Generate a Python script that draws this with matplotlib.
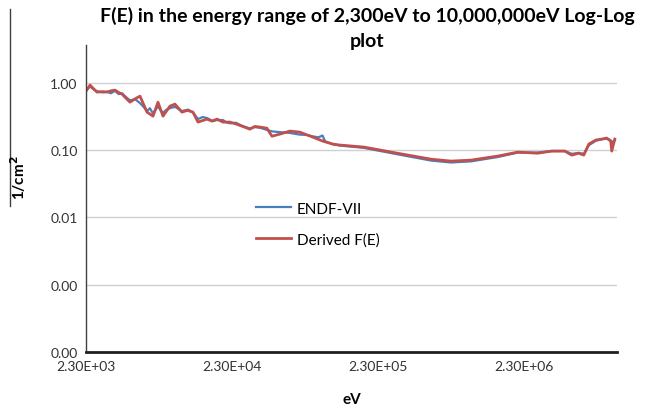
import matplotlib
matplotlib.use("Agg")
import matplotlib.pyplot as plt
from matplotlib.ticker import FixedLocator, FuncFormatter, NullLocator
from matplotlib.lines import Line2D

# ---------------------------
# Datos
# ---------------------------
energy_derived = [2300, 2450, 2735, 3000, 3205, 3400, 3635, 3850, 4060, 4600,
                  5000, 5390, 6025, 6620, 7160, 7750, 8650, 9360, 10450, 11400,
                  12440, 13460, 15520, 16800, 18160, 19960, 22300, 24500, 26930, 30540,
                  33000, 35730, 39910, 43220, 49000, 57390, 67150, 82420, 96540, 113000,
                  126200, 184500, 310500, 530900, 727500, 997000, 1.525e6, 2.09e6, 2.86e6, 3.57e6,
                  4.39e6, 4.90e6, 5.47e6, 5.92e6, 6.41e6, 7.16e6, 7.87e6, 8.51e6, 9.06e6, 9.2e6,
                  9.66e6]
flux_derived = [0.75, 0.925, 0.728, 0.74, 0.728, 0.76, 0.78, 0.72, 0.68, 0.516,
                0.58, 0.634, 0.367, 0.32, 0.516, 0.32, 0.451, 0.483, 0.367, 0.39,
                0.367, 0.261, 0.289, 0.27, 0.289, 0.261, 0.261, 0.245, 0.227, 0.205,
                0.225, 0.22, 0.212, 0.161, 0.173, 0.192, 0.185, 0.156, 0.136, 0.123,
                0.119, 0.111, 0.0902, 0.0734, 0.0687, 0.071, 0.0815, 0.0934, 0.090, 0.0967,
                0.0967, 0.0843, 0.090, 0.0843, 0.123, 0.141, 0.146, 0.151, 0.136, 0.0967,
                0.146]

energy_endf = [2300, 2450, 2600, 2735, 3000, 3205, 3400, 3635, 3850, 4060,
               4300, 4600, 5000, 5390, 5700, 6025, 6300, 6620, 7160, 7450,
               7750, 8200, 8650, 9360, 10450, 11500, 12440, 13460, 14500, 15520,
               17000, 18160, 19960, 21000, 22300, 24500, 26930, 28500, 30540, 33000,
               35730, 39910, 43220, 49000, 57390, 67150, 75000, 82420, 90000, 96000,
               100000, 113000, 126200, 184500, 310500, 530900, 727500, 997000, 1.525e6, 2.09e6,
               2.86e6, 3.57e6, 4.39e6, 4.90e6, 5.47e6, 5.92e6, 6.41e6, 7.16e6, 7.87e6, 8.51e6,
               9.06e6, 9.2e6, 9.66e6]
flux_endf = [0.78, 0.88, 0.80, 0.75, 0.72, 0.74, 0.70, 0.76, 0.68, 0.70,
             0.62, 0.55, 0.57, 0.50, 0.44, 0.38, 0.42, 0.35, 0.45, 0.39,
             0.36, 0.40, 0.42, 0.44, 0.38, 0.40, 0.36, 0.29, 0.31, 0.30,
             0.27, 0.28, 0.28, 0.26, 0.25, 0.255, 0.23, 0.22, 0.21, 0.22,
             0.215, 0.20, 0.19, 0.185, 0.18, 0.17, 0.168, 0.16, 0.155, 0.165,
             0.135, 0.122, 0.117, 0.108, 0.087, 0.070, 0.0655, 0.068, 0.079, 0.092,
             0.092, 0.097, 0.097, 0.088, 0.091, 0.088, 0.118, 0.138, 0.145, 0.148,
             0.140, 0.13, 0.14]

x_ticks = [2.3e3, 2.3e4, 2.3e5, 2.3e6]
y_ticks = [1e-4, 1e-3, 1e-2, 1e-1, 1e0]

# ---------------------------
# Figura
# ---------------------------
plt.rcParams["font.family"] = ["Lato", "DejaVu Sans"]

fig = plt.figure(figsize=(6.46, 4.10), dpi=100)
ax = fig.add_axes([86 / 646, 57 / 410, 531 / 646, 307 / 410])

ax.plot(energy_endf, flux_endf, color="#4a7ebb", lw=1.6, label="ENDF-VII")
ax.plot(energy_derived, flux_derived, color="#c0504d", lw=2.0, label="Derived F(E)")

ax.set_xscale("log")
ax.set_yscale("log")
ax.set_xlim(2300, 1.0e7)
ax.set_ylim(1e-4, 3.65)

ax.xaxis.set_major_locator(FixedLocator(x_ticks))
ax.xaxis.set_minor_locator(NullLocator())
ax.yaxis.set_major_locator(FixedLocator(y_ticks))
ax.yaxis.set_minor_locator(NullLocator())
ax.xaxis.set_major_formatter(FuncFormatter(lambda v, p: f"{v:.2E}"))
ax.yaxis.set_major_formatter(FuncFormatter(lambda v, p: f"{v:.2f}"))
ax.tick_params(axis="both", length=0, labelsize=10, colors="#333333", pad=6)

ax.grid(axis="y", color="#d0d0d0", lw=1)
ax.set_axisbelow(True)
for s in ["top", "right"]:
    ax.spines[s].set_visible(False)
ax.spines["left"].set_color("#404040")
ax.spines["left"].set_linewidth(1.0)
ax.spines["bottom"].set_color("#202020")
ax.spines["bottom"].set_linewidth(2.0)

ax.set_xlabel("eV", fontsize=11, fontweight="bold", labelpad=14)
fig.text(18 / 646, 1 - 178 / 410, "1/cm$^\\mathbf{2}$", rotation=90, ha="center", va="center",
         fontsize=11, fontweight="bold")
fig.add_artist(Line2D([10 / 646, 10 / 646], [1 - 10 / 410, 1 - 207 / 410],
                      color="#404040", lw=1))

fig.text(367 / 646, 1 - 7 / 410,
         "F(E) in the energy range of 2,300eV to 10,000,000eV Log-Log\nplot",
         ha="center", va="top", fontsize=14, fontweight="bold", linespacing=1.6)

ax.legend(loc="upper left", bbox_to_anchor=((248 - 86) / 531, (353 - 195) / 307),
          frameon=False, fontsize=11, handlelength=2.3, handletextpad=0.4,
          labelspacing=1.1, borderpad=0)

fig.savefig("out.png", dpi=100)
plt.close(fig)
